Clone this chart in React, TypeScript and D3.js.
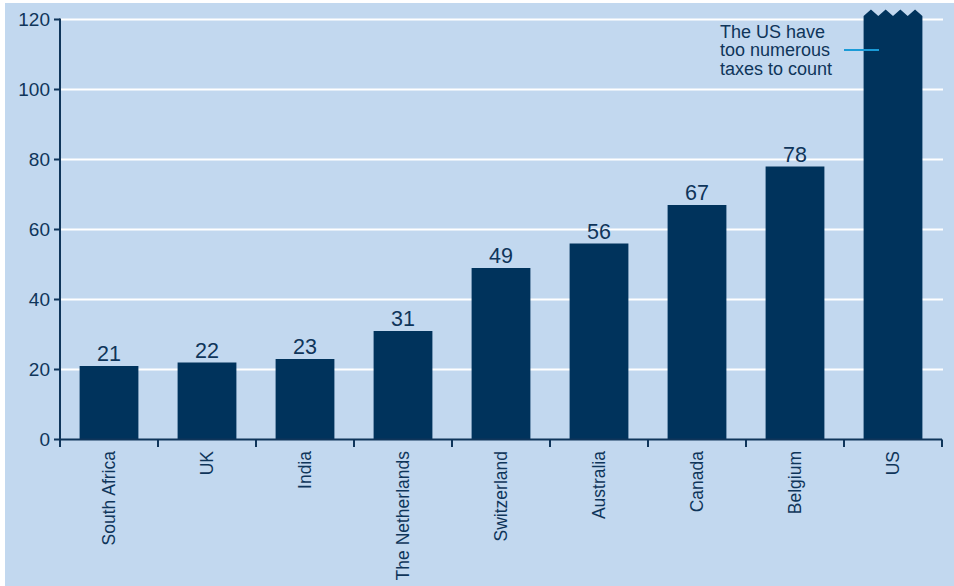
import React from "react";
import * as d3 from "d3";

const categories = ["South Africa", "UK", "India", "The Netherlands", "Switzerland", "Australia", "Canada", "Belgium", "US"];
const values = [21, 22, 23, 31, 49, 56, 67, 78, 121];
const labelled = [true, true, true, true, true, true, true, true, false];
const yTicks = [0, 20, 40, 60, 80, 100, 120];
const noteLines = ["The US have", "too numerous", "taxes to count"];

const W = 954, H = 586;
const BG = "#c2d8ef";
const BAR = "#00335c";
const TXT = "#0f355a";
const FONT = "'Liberation Sans', Arial, Helvetica, sans-serif";

export default function App() {
  const x = d3.scaleBand<string>().domain(categories).range([60, 942]).paddingInner(0.4).paddingOuter(0.2);
  const y = d3.scaleLinear().domain([0, 120]).range([439.5, 19.5]);
  const step = x.step();
  const bw = x.bandwidth();

  const zig = (x0: number, w: number, top: number) => {
    const teeth = 4;
    const tw = w / teeth;
    const amp = 6.5;
    let p = `M${x0},${y(0)} L${x0},${top}`;
    for (let i = 0; i < teeth; i++) {
      p += ` L${x0 + tw * i + tw / 2},${top - amp} L${x0 + tw * (i + 1)},${top}`;
    }
    p += ` L${x0 + w},${y(0)} Z`;
    return p;
  };

  return (
    <svg width={W} height={H} style={{ position: "absolute", left: 0, top: 0 }} fontFamily={FONT}>
      <rect x={0} y={0} width={W} height={H} fill="#ffffff" />
      <rect x={5} y={3} width={W - 5} height={H - 3} fill={BG} />
      {yTicks.map((t) => (
        <g key={t}>
          {t > 0 && <line x1={60} x2={943} y1={y(t)} y2={y(t)} stroke="#ffffff" strokeWidth={2} />}
          <line x1={54} x2={60} y1={y(t)} y2={y(t)} stroke={TXT} strokeWidth={2} />
          <text x={50} y={y(t)} dy="0.35em" textAnchor="end" fontSize={19} fill={TXT}>{t}</text>
        </g>
      ))}
      {categories.map((c, i) => {
        const bx = x(c)!;
        if (c === "US") {
          return <path key={c} d={zig(bx, bw, y(values[i]))} fill={BAR} />;
        }
        return (
          <g key={c}>
            <rect x={bx} y={y(values[i])} width={bw} height={y(0) - y(values[i])} fill={BAR} />
            {labelled[i] && (
              <text x={bx + bw / 2} y={y(values[i]) - 5} textAnchor="middle" fontSize={21.5} fill={TXT}>{values[i]}</text>
            )}
          </g>
        );
      })}
      <line x1={60} x2={60} y1={18.5} y2={447} stroke={TXT} strokeWidth={2} />
      <line x1={60} x2={942} y1={439.5} y2={439.5} stroke={TXT} strokeWidth={2} />
      {d3.range(categories.length + 1).map((i) => (
        <line key={i} x1={60 + step * i} x2={60 + step * i} y1={439.5} y2={447} stroke={TXT} strokeWidth={2} />
      ))}
      {categories.map((c) => {
        const cx = x(c)! + bw / 2;
        return (
          <text key={c} transform={`translate(${cx},451) rotate(-90)`} dy="0.35em" textAnchor="end" fontSize={17.5} fill={TXT}>{c}</text>
        );
      })}
      <line x1={844} x2={879} y1={50} y2={50} stroke="#1a9bd7" strokeWidth={2} />
      {noteLines.map((l, i) => (
        <text key={i} x={720} y={37.5 + i * 18.5} fontSize={18} fill={TXT}>{l}</text>
      ))}
    </svg>
  );
}
